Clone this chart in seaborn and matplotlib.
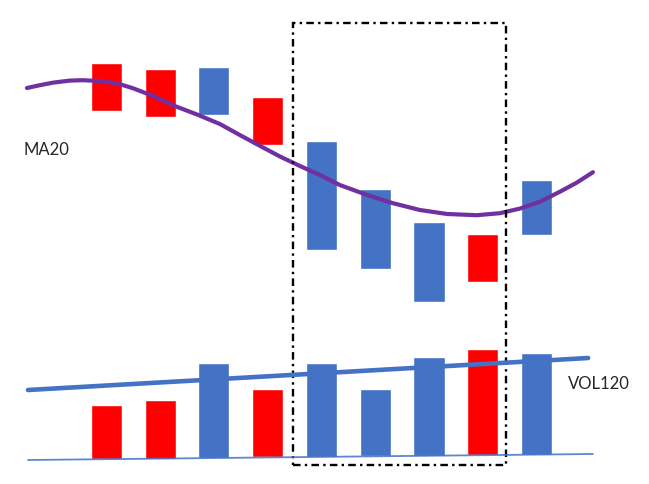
import numpy as np
import pandas as pd
import seaborn as sns
import matplotlib.pyplot as plt
from matplotlib.patches import Rectangle

# candles (index, open, close) - red = up, blue = down
idx = [1, 2, 3, 4, 5, 6, 7, 8, 9]
opens = [17.45, 17.15, 19.65, 15.75, 15.95, 13.55, 11.90, 8.90, 14.00]
closes = [19.85, 19.55, 17.25, 18.15, 10.50, 9.55, 7.90, 11.30, 11.25]

# MA20 curve
ma_x = [-0.48, -0.24, 0.01, 0.32, 0.56, 0.88, 1.20, 1.49, 1.87, 2.27, 2.68, 3.11,
        3.48, 3.86, 4.23, 4.60, 4.97, 5.34, 5.85, 6.33, 6.83, 7.34, 7.89, 8.32,
        8.69, 9.07, 9.44, 9.75, 10.05]
ma_y = [18.60, 18.74, 18.87, 18.97, 18.99, 18.95, 18.83, 18.59, 18.20, 17.70, 17.28, 16.80,
        16.25, 15.70, 15.17, 14.70, 14.25, 13.75, 13.25, 12.84, 12.50, 12.30, 12.24, 12.34,
        12.57, 12.92, 13.42, 13.87, 14.39]

# volume
vol = [530, 580, 950, 690, 950, 690, 1010, 1090, 1050]
vol_up = [True, True, False, True, False, False, False, True, False]
base_x = [-0.46, 10.05]
base_y = [-20, 40]
vol120_x = [-0.46, 9.96]
vol120_y = [680, 1000]

RED = "#FF0000"
BLUE = "#4472C4"
PURPLE = "#7030A0"

sns.set_style("white")
plt.rcParams['font.family'] = ['Lato', 'DejaVu Sans']

fig = plt.figure(figsize=(6.49, 4.84), dpi=100)
ax = fig.add_axes([0, 0, 1, 1])
ax2 = ax.twinx()
for a in (ax, ax2):
    a.set_xlim(-0.981, 11.093)
    a.axis("off")
ax.set_ylim(-1.2, 23)
ax2.set_ylim(-260, 4580)

w = 0.577
# candle bodies
for i, o, c in zip(idx, opens, closes):
    col = RED if c > o else BLUE
    ax.bar(i, abs(c - o), bottom=min(o, c), width=w, color=col, zorder=2)

df_ma = pd.DataFrame({"x": ma_x, "y": ma_y})
sns.lineplot(data=df_ma, x="x", y="y", ax=ax, color=PURPLE, lw=3,
             solid_capstyle="round", solid_joinstyle="round", zorder=3)
ax.text(-0.535, 15.5, "MA20", fontsize=12, va="center", ha="left")

# volume bars sit on the baseline
bottoms = np.interp(idx, base_x, base_y)
for i, v, up, b in zip(idx, vol, vol_up, bottoms):
    ax2.bar(i, v - b, bottom=b, width=w, color=RED if up else BLUE, zorder=2)

sns.lineplot(x=vol120_x, y=vol120_y, ax=ax2, color=BLUE, lw=3.3, zorder=3)
sns.lineplot(x=base_x, y=base_y, ax=ax2, color=BLUE, lw=1.3, alpha=0.85, zorder=3)
ax2.text(9.586, 740, "VOL120", fontsize=12, va="center", ha="left")

# dash-dot box
ax.add_patch(Rectangle((4.47, -0.25), 8.43 - 4.47, 21.85 + 0.25, fill=False,
                       edgecolor="black", lw=1.7, linestyle=(0, (3.2, 1.8, 1, 1.8)), zorder=4))

fig.savefig("out.png", dpi=100)
